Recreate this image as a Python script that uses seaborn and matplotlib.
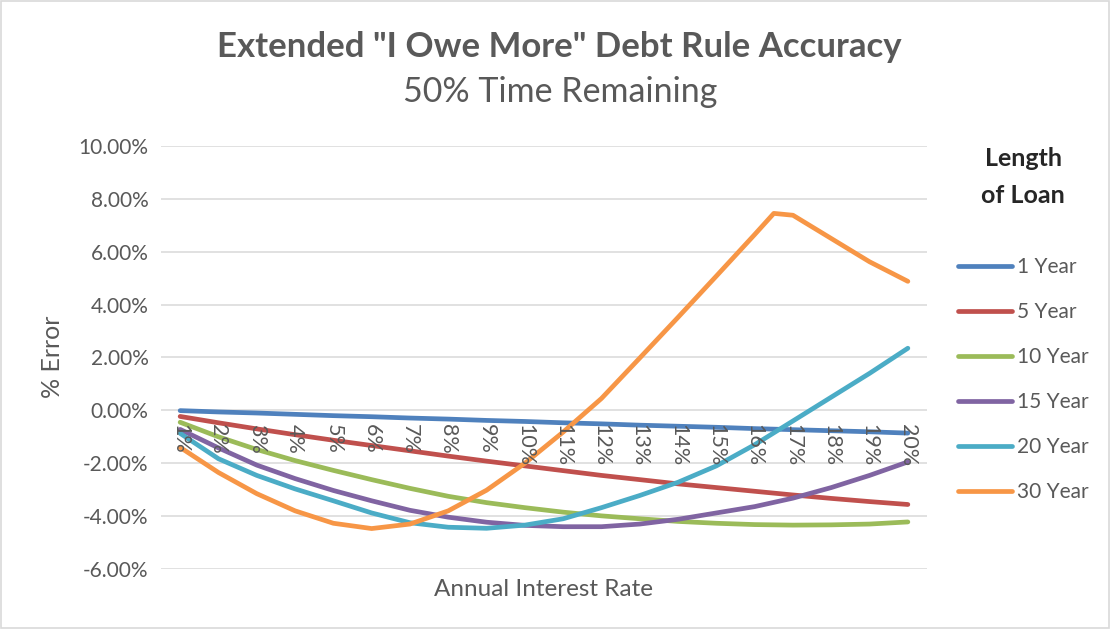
import pandas as pd
import matplotlib.pyplot as plt
import seaborn as sns
from matplotlib.patches import Rectangle

# interest rates (%) for each point
rates = list(range(1, 21))
rates_30 = list(range(1, 17)) + [16.5] + list(range(17, 21))

# % error by loan length
err_1yr = [-0.01, -0.06, -0.10, -0.15, -0.20, -0.24, -0.29, -0.33, -0.38, -0.42,
           -0.47, -0.51, -0.56, -0.60, -0.64, -0.69, -0.73, -0.77, -0.81, -0.86]
err_5yr = [-0.23, -0.47, -0.70, -0.92, -1.13, -1.33, -1.53, -1.73, -1.92, -2.10,
           -2.28, -2.46, -2.62, -2.78, -2.92, -3.06, -3.20, -3.33, -3.45, -3.56]
err_10yr = [-0.45, -1.00, -1.48, -1.90, -2.27, -2.62, -2.95, -3.25, -3.49, -3.68,
            -3.85, -3.99, -4.10, -4.20, -4.27, -4.32, -4.34, -4.33, -4.30, -4.22]
err_15yr = [-0.72, -1.42, -2.07, -2.58, -3.03, -3.42, -3.78, -4.04, -4.23, -4.35,
            -4.40, -4.40, -4.30, -4.12, -3.88, -3.64, -3.32, -2.92, -2.46, -1.95]
err_20yr = [-0.87, -1.83, -2.46, -2.97, -3.42, -3.88, -4.25, -4.42, -4.46, -4.34,
            -4.10, -3.68, -3.22, -2.72, -2.10, -1.30, -0.40, 0.50, 1.40, 2.35]
err_30yr = [-1.40, -2.35, -3.15, -3.80, -4.27, -4.47, -4.30, -3.80, -3.02, -2.00,
            -0.82, 0.45, 1.98, 3.52, 5.08, 6.65, 7.45, 7.38, 6.50, 5.62, 4.88]

series_names = ["1 Year", "5 Year", "10 Year", "15 Year", "20 Year", "30 Year"]
series_colors = ["#4f81bd", "#c0504d", "#9bbb59", "#8064a2", "#4bacc6", "#f79646"]

# build long-form table for seaborn
frames = []
for name, xs, ys in zip(series_names,
                        [rates, rates, rates, rates, rates, rates_30],
                        [err_1yr, err_5yr, err_10yr, err_15yr, err_20yr, err_30yr]):
    frames.append(pd.DataFrame({"rate": xs, "error": ys, "loan": name}))
df = pd.concat(frames, ignore_index=True)

sns.set_style("white")
plt.rcParams['font.family'] = ['Lato', 'DejaVu Sans']
grey = "#595959"

fig = plt.figure(figsize=(11.15, 6.33), dpi=100)
ax = fig.add_axes([0.1444, 0.1011, 0.687, 0.6683])

sns.lineplot(data=df, x="rate", y="error", hue="loan", hue_order=series_names,
             palette=series_colors, linewidth=3.4, errorbar=None, ax=ax,
             solid_capstyle="round", solid_joinstyle="round")

ax.set_xlim(0.5, 20.5)
ax.set_ylim(-6, 10)
ax.set_yticks(range(-6, 11, 2))
ax.set_yticklabels([f"{v:.2f}%" for v in range(-6, 11, 2)])
ax.set_xticks(rates)
ax.set_xticklabels([f"{r}%" for r in rates])
ax.yaxis.grid(True, color="#d9d9d9", linewidth=1.1)
ax.set_axisbelow(True)
# rate labels are drawn on top of the lines
ax.xaxis.set_zorder(3)
for s in ax.spines.values():
    s.set_visible(False)
# category labels sit on the zero line, like Excel does
ax.spines['bottom'].set_position(('data', 0))
ax.tick_params(axis='x', length=0, pad=10, labelsize=15.5, labelcolor=grey,
               labelrotation=-90)
ax.tick_params(axis='y', length=0, pad=9, labelsize=15, labelcolor=grey)

ax.set_xlabel("")
ax.set_ylabel("")
fig.text(53 / 1115, 1 - 357 / 633, "% Error", ha="center", va="center",
         rotation=90, fontsize=18, color=grey)
fig.text(543 / 1115, 1 - 590 / 633, "Annual Interest Rate", ha="center",
         va="center", fontsize=17.5, color=grey)

fig.text(0.502, 0.926, 'Extended "I Owe More" Debt Rule Accuracy', ha="center",
         va="center", fontsize=25, fontweight="bold", color=grey)
fig.text(0.502, 0.855, "50% Time Remaining", ha="center", va="center",
         fontsize=24.5, color=grey)

handles, labels = ax.get_legend_handles_labels()
leg = ax.legend(handles, labels, title="Length\nof Loan", loc="upper left",
                bbox_to_anchor=(0.842, 0.797), bbox_transform=fig.transFigure,
                frameon=False, fontsize=15, labelcolor=grey, handlelength=2.6,
                handletextpad=0.25, labelspacing=1.2)
leg.get_title().set_fontweight("bold")
leg.get_title().set_fontsize(18)
leg.get_title().set_linespacing(1.75)
leg.get_title().set_multialignment("center")
leg._legend_box.sep = 36
for line in leg.get_lines():
    line.set_linewidth(3.4)
    line.set_solid_capstyle("round")

# thin chart-area border
fig.patches.append(Rectangle((0.001, 0.008), 0.994, 0.99, transform=fig.transFigure,
                             fill=False, edgecolor="#d9d9d9", linewidth=1.2))

fig.savefig("out.png", dpi=100)
